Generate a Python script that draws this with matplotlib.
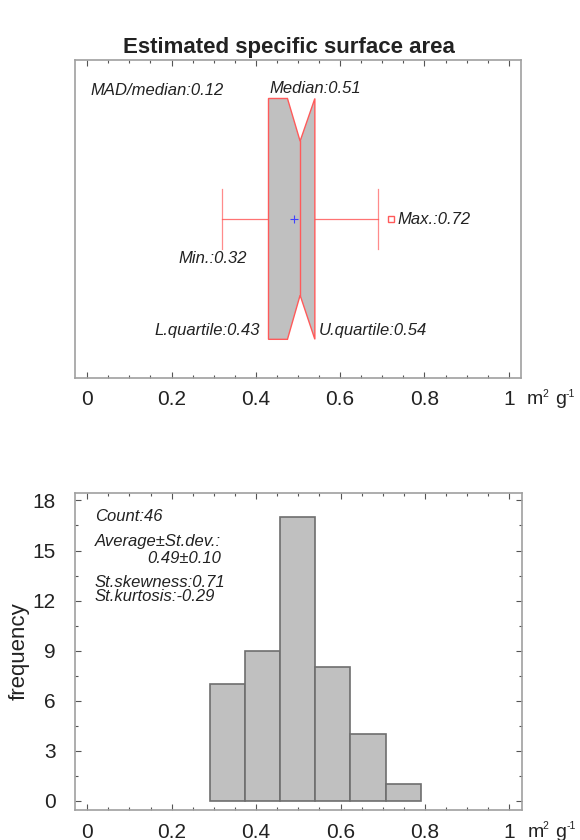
import numpy as np
import matplotlib
matplotlib.use("Agg")
import matplotlib.pyplot as plt
from matplotlib.patches import Polygon
from matplotlib.ticker import MultipleLocator

plt.rcParams['font.family'] = ['Liberation Sans', 'DejaVu Sans']

# box plot summary (m2 g-1)
v_min = 0.32
q1 = 0.43
median = 0.505
q3 = 0.54
whisk_hi = 0.69
v_max = 0.72
mean = 0.49
notch_lo = 0.475
notch_hi = 0.54
mad_ratio = 0.12

# histogram
bin_edges = [0.29, 0.373, 0.457, 0.54, 0.623, 0.707, 0.79]
counts = [7, 9, 17, 8, 4, 1]
sd = 0.10
skew = 0.71
kurt = -0.29

txt_col = '#222222'
red = '#ff5a5a'
frame = '#a0a0a0'
tick_col = '#555555'

fig = plt.figure(figsize=(5.8, 8.4), dpi=100)
ax1 = fig.add_axes([0.1293, 0.55, 0.769, 0.379])
ax2 = fig.add_axes([0.1293, 0.0357, 0.770, 0.3777])

def style(ax):
    for s in ax.spines.values():
        s.set_color(frame)
        s.set_linewidth(1.2)
    ax.set_xlim(-0.029, 1.029)
    ax.xaxis.set_minor_locator(MultipleLocator(0.05))
    ax.set_xticks([0, 0.2, 0.4, 0.6, 0.8, 1])
    ax.set_xticklabels(['0', '0.2', '0.4', '0.6', '0.8', '1'])
    ax.tick_params(axis='x', which='both', direction='in', top=True,
                   color=tick_col, labelsize=15, pad=9, labelcolor=txt_col)
    ax.tick_params(axis='x', which='major', length=4.2, width=0.8)
    ax.tick_params(axis='x', which='minor', length=2.4, width=0.8)
    # unit label m2 g-1 next to the last tick label, small superscripts
    for s, dx, dy, fs in [('m', 6, -22, 14), ('2', 21, -16, 7.5),
                          ('g', 34, -22, 14), ('-1', 45, -16, 7.5)]:
        ax.annotate(s, xy=(1.0, 0), xycoords='axes fraction',
                    xytext=(dx, dy), textcoords='offset pixels',
                    fontsize=fs, color=txt_col, va='center', ha='left')

# ---- top: notched box plot
style(ax1)
ax1.set_ylim(0, 1)
ax1.set_yticks([])
yc, ytop, ybot = 0.5, 0.878, 0.1215
ynt, ynb = 0.744, 0.26
verts = [(q1, ybot), (q1, ytop), (notch_lo, ytop), (median, ynt),
         (notch_hi, ytop), (q3, ytop), (q3, ybot), (notch_hi, ybot),
         (median, ynb), (notch_lo, ybot)]
ax1.add_patch(Polygon(verts, closed=True, facecolor='#c0c0c0',
                      edgecolor=red, linewidth=1.0, zorder=3))
ax1.plot([median, median], [ynb, ynt], color=red, lw=1.0, zorder=4)
ax1.plot([v_min, q1], [yc, yc], color=red, lw=0.9, alpha=0.85)
ax1.plot([q3, whisk_hi], [yc, yc], color=red, lw=0.9, alpha=0.85)
for xw in (v_min, whisk_hi):
    ax1.plot([xw, xw], [0.405, 0.593], color=red, lw=0.9, alpha=0.7)
ax1.plot(mean, yc, marker='+', color='#4040ff', ms=6, mew=0.8, zorder=5)
ax1.plot(v_max, yc, marker='s', mfc='white', mec=red, ms=5, mew=1.0)

kw = dict(fontsize=12, style='italic', color=txt_col, va='center')
ax1.text(0.008, 0.902, 'MAD/median:%.2f' % mad_ratio, ha='left', **kw)
ax1.text(0.433, 0.908, 'Median:%.2f' % median, ha='left', **kw)
ax1.text(0.735, 0.498, 'Max.:%.2f' % v_max, ha='left', **kw)
ax1.text(0.378, 0.374, 'Min.:%.2f' % v_min, ha='right', **kw)
ax1.text(0.409, 0.149, 'L.quartile:%.2f' % q1, ha='right', **kw)
ax1.text(0.549, 0.149, 'U.quartile:%.2f' % q3, ha='left', **kw)

fig.text(289 / 580, 1 - 48 / 840, 'Estimated specific surface area',
         fontsize=16, fontweight='bold', color=txt_col, ha='center', va='center')

# ---- bottom: histogram
style(ax2)
widths = np.diff(bin_edges)
ax2.bar(bin_edges[:-1], counts, width=widths, align='edge', color='#c0c0c0',
        edgecolor='#6e6e6e', linewidth=1.2, zorder=3)
ax2.set_ylim(-0.54, 18.46)
ax2.yaxis.set_major_locator(MultipleLocator(3))
ax2.yaxis.set_minor_locator(MultipleLocator(1.5))
ax2.tick_params(axis='y', which='both', direction='in', right=True,
                color=tick_col, labelsize=15, pad=14, labelcolor=txt_col)
ax2.tick_params(axis='y', which='major', length=4.2, width=0.8)
ax2.tick_params(axis='y', which='minor', length=2.4, width=0.8)
ax2.set_ylabel('frequency', fontsize=16, color=txt_col, labelpad=2)

ax2.text(0.018, 17.04, 'Count:%d' % sum(counts), ha='left', **kw)
ax2.text(0.018, 15.55, 'Average\u00b1St.dev.:', ha='left', **kw)
ax2.text(0.318, 14.55, '%.2f\u00b1%.2f' % (mean, sd), ha='right', **kw)
ax2.text(0.018, 13.1, 'St.skewness:%.2f' % skew, ha='left', **kw)
ax2.text(0.018, 12.25, 'St.kurtosis:%.2f' % kurt, ha='left', **kw)

fig.savefig('out.png', dpi=100)
